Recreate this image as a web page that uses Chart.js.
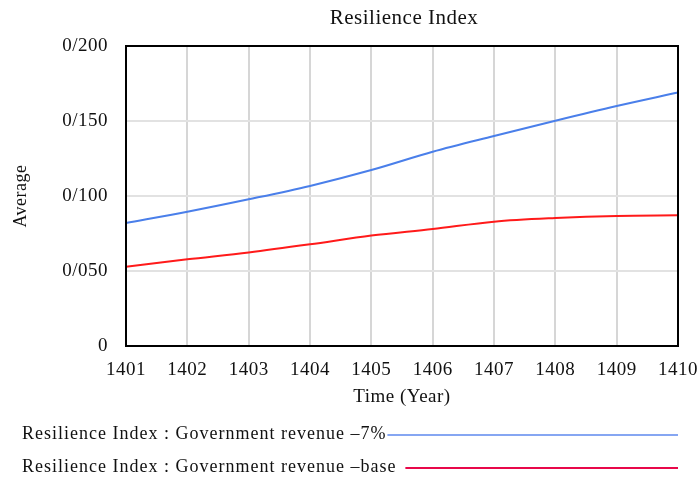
<!DOCTYPE html>
<html>
<head>
<meta charset="utf-8">
<script src="https://cdn.jsdelivr.net/npm/chart.js@4"></script>
<style>
  html, body { margin: 0; padding: 0; background: #fff; }
  #wrap { width: 697px; height: 480px; }
</style>
</head>
<body>
<div id="wrap"><canvas id="chart"></canvas></div>
<script>
const years = ['1401', '1402', '1403', '1404', '1405', '1406', '1407', '1408', '1409', '1410'];
const revenueMinus7 = [0.082, 0.0895, 0.0978, 0.1067, 0.1173, 0.1295, 0.140, 0.1502, 0.160, 0.169];
const revenueBase = [0.0529, 0.0578, 0.0624, 0.0678, 0.0736, 0.078, 0.0829, 0.0853, 0.0867, 0.0871];
const seriesNames = ['Resilience Index : Government revenue –7%', 'Resilience Index : Government revenue –base'];
const legendColors = ['#86a6f2', '#e8084a'];
const chartTitle = 'Resilience Index';

const serif = '"Liberation Serif", "Times New Roman", serif';

// the reference font runs a bit wider than Liberation Serif
const spacingPlugin = {
  id: 'spacing',
  beforeUpdate(chart) { chart.ctx.letterSpacing = '0.5px'; },
  beforeDraw(chart) { chart.ctx.letterSpacing = '0.5px'; }
};

// title centred over the plot, frame, and legend with trailing line samples
const framePlugin = {
  id: 'frame',
  afterDraw(chart) {
    const { ctx, chartArea: a } = chart;
    ctx.save();
    ctx.strokeStyle = '#000';
    ctx.lineWidth = 2;
    ctx.strokeRect(a.left, a.top, a.right - a.left, a.bottom - a.top);

    ctx.fillStyle = '#111';
    ctx.textBaseline = 'middle';
    ctx.font = '21px ' + serif;
    ctx.letterSpacing = '0.5px';
    ctx.textAlign = 'center';
    ctx.fillText(chartTitle, (a.left + a.right) / 2 + 2, 18);

    ctx.textAlign = 'left';
    ctx.font = '18px ' + serif;
    ctx.letterSpacing = '1px';
    const rows = [434, 467];
    const gaps = [1, 9];
    seriesNames.forEach((name, i) => {
      ctx.fillText(name, 22, rows[i]);
      const w = ctx.measureText(name).width;
      ctx.strokeStyle = legendColors[i];
      ctx.lineWidth = 2;
      ctx.beginPath();
      ctx.moveTo(22 + w + gaps[i], rows[i] + 1);
      ctx.lineTo(a.right, rows[i] + 1);
      ctx.stroke();
    });
    ctx.restore();
  }
};

new Chart(document.getElementById('chart'), {
  type: 'line',
  data: {
    labels: years,
    datasets: [{
      label: seriesNames[0],
      data: revenueMinus7,
      borderColor: '#4a7fea',
      borderWidth: 2,
      pointRadius: 0,
      cubicInterpolationMode: 'monotone'
    }, {
      label: seriesNames[1],
      data: revenueBase,
      borderColor: '#ff1a1a',
      borderWidth: 2,
      pointRadius: 0,
      cubicInterpolationMode: 'monotone'
    }]
  },
  options: {
    responsive: true,
    maintainAspectRatio: false,
    animation: false,
    layout: { padding: { left: 0, right: 0, top: 46, bottom: 72 } },
    plugins: {
      legend: { display: false },
      tooltip: { enabled: false },
      title: { display: false }
    },
    scales: {
      x: {
        grid: { color: '#d6d6d6', lineWidth: 2, drawTicks: false },
        border: { display: false },
        ticks: { color: '#111', font: { family: serif, size: 19 }, padding: 13, maxRotation: 0 },
        title: { display: true, text: 'Time (Year)', color: '#111', font: { family: serif, size: 19 }, padding: 0 },
        afterFit(scale) {
          scale.height = 62;
          scale.paddingLeft = 0;
          scale.paddingRight = 19;
        }
      },
      y: {
        min: 0,
        max: 0.2,
        grid: { color: '#e2e2e2', lineWidth: 2, drawTicks: false },
        border: { display: false },
        ticks: {
          stepSize: 0.05,
          color: '#111',
          font: { family: serif, size: 19 },
          padding: 18,
          callback: v => v === 0 ? '0' : '0/' + String(Math.round(v * 1000)).padStart(3, '0')
        },
        title: { display: true, text: 'Average', color: '#111', font: { family: serif, size: 18 }, padding: { top: 10, bottom: 0 } },
        afterFit(scale) { scale.width = 126; }
      }
    }
  },
  plugins: [spacingPlugin, framePlugin]
});
</script>
</body>
</html>
